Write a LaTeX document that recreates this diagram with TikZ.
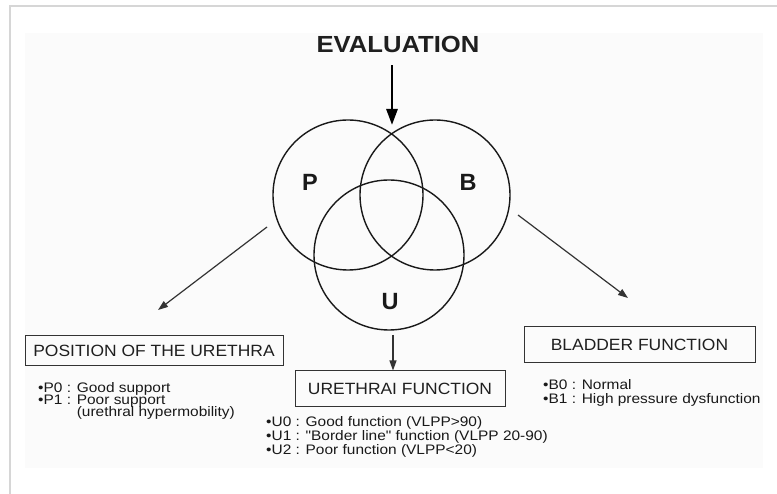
\documentclass[tikz,border=0pt]{standalone}
\usepackage{fontspec}
\setmainfont{Liberation Sans}
\newfontfamily\headfont[FakeStretch=1.1]{Liberation Sans}
\newfontfamily\boxfont[FakeStretch=1.07]{Liberation Sans}
\newfontfamily\listfont[FakeStretch=1.12]{Liberation Sans}
\usetikzlibrary{arrows.meta}
\begin{document}
\begin{tikzpicture}[x=1pt,y=-1pt,
  venn/.style={circle, draw=black!90, line width=1.4pt, minimum size=150pt, inner sep=0pt},
  vlabel/.style={font=\fontsize{23.5}{24}\selectfont\bfseries, text=black!90, anchor=base, inner sep=0pt},
  catbox/.style={draw=black!80, line width=1pt, font=\boxfont\fontsize{16.3}{18}\selectfont, text=black!88, inner sep=0pt},
  entry/.style={font=\listfont\fontsize{13.8}{14}\selectfont, text=black!90, anchor=base west, inner sep=0pt},
  thinarrow/.style={draw=black!80, line width=1.2pt, -{Triangle[length=10pt,width=7pt]}},
  bigarrow/.style={draw=black, line width=2.8pt, -{Triangle[length=16pt,width=11pt]}},
]
\useasboundingbox (0,0) rectangle (777,494);
\fill[white] (0,0) rectangle (777,494);
% scanned sheet and outer frame
\fill[black!1.5] (25,33) rectangle (763,468);
\draw[black!16, line width=2.5pt] (10,494) -- (10,6) -- (777,6);

% title and entry arrow
\node[font=\headfont\fontsize{23.3}{24}\selectfont\bfseries, text=black!88, anchor=base, inner sep=0pt] (eval) at (398,53) {EVALUATION};
\coordinate (vtop) at (392,125);
\draw[bigarrow, shorten <=12pt] (eval.south -| vtop) -- (vtop);

% the three overlapping domains
\node[venn] (P) at (348,195) {};
\node[venn] (B) at (435,195) {};
\node[venn] (U) at (389,255) {};
\node[vlabel] (Pl) at (310,191) {P};
\node[vlabel] (Bl) at (468,191) {B};
\node[vlabel] (Ul) at (390,310) {U};

% category boxes
\node[catbox, minimum width=258pt, minimum height=30pt] (pbox) at (154,351) {POSITION OF THE URETHRA};
\node[catbox, minimum width=210pt, minimum height=36pt] (ubox) at (400,389) {URETHRAI FUNCTION};
\node[catbox, minimum width=231pt, minimum height=36pt] (bbox) at (639.5,345) {BLADDER FUNCTION};

% arrows from the diagram to the categories
\coordinate (pstart) at (267,227);
\coordinate (pend) at (158,310);
\coordinate (bstart) at (518,215);
\coordinate (bend) at (628,298);
\coordinate (ustem) at (393,335);
\draw[thinarrow] (pstart) -- (pend);
\draw[thinarrow] (bstart) -- (bend);
\draw[thinarrow] (ustem) -- (ustem |- ubox.north);

% grades
\node[entry] (p0) at (38,392) {•P0 : Good support};
\node[entry] (p1) at (38,404.5) {•P1 : Poor support};
\node[entry] (p1b) at (38,417) {\phantom{•P1 : }(urethral hypermobility)};
\node[entry] (u0) at (266,427) {•U0 : Good function (VLPP>90)};
\node[entry] (u1) at (266,440.5) {•U1 : "Border line" function (VLPP 20-90)};
\node[entry] (u2) at (266,454) {•U2 : Poor function (VLPP<20)};
\node[entry] (b0) at (543,390) {•B0 : Normal};
\node[entry] (b1) at (543,403.5) {•B1 : High pressure dysfunction};
\end{tikzpicture}
\end{document}
